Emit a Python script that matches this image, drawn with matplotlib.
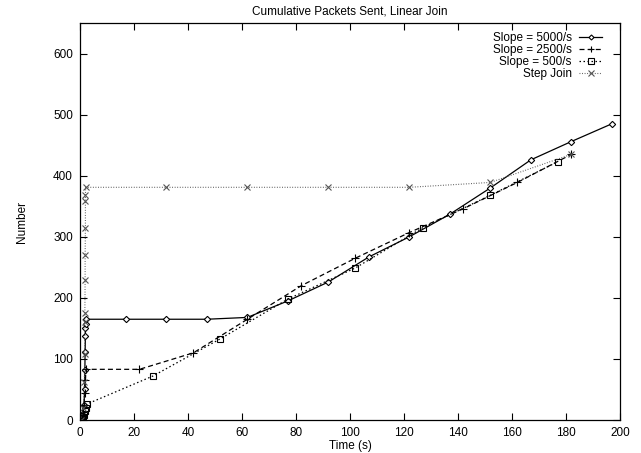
import matplotlib
matplotlib.use("Agg")
import matplotlib.pyplot as plt

plt.rcParams['font.family'] = ['Liberation Sans', 'DejaVu Sans']

# Slope = 5000/s
t_5000 = [0.3, 1.0, 1.5, 1.7, 1.8, 1.9, 2.0, 2.0, 2.1, 2.2, 17, 32, 47, 62, 77, 92, 107, 122, 137, 152, 167, 182, 197]
n_5000 = [0, 8, 25, 50, 82, 111, 138, 150, 158, 165, 165, 165, 165, 168, 195, 226, 267, 300, 337, 380, 426, 456, 485]

# Slope = 2500/s
t_2500 = [0.3, 1.0, 1.5, 1.8, 2.0, 2.2, 22, 42, 62, 82, 102, 122, 142, 162, 182]
n_2500 = [0, 10, 25, 45, 65, 83, 83, 110, 165, 220, 265, 307, 346, 389, 435]

# Slope = 500/s
t_500 = [0.2, 0.6, 1.0, 1.4, 1.8, 2.2, 2.5, 27, 52, 77, 102, 127, 152, 177]
n_500 = [0, 2, 4, 8, 14, 20, 26, 72, 133, 198, 249, 315, 368, 423]

# Step Join
t_step = [0.3, 1.2, 1.6, 1.7, 1.8, 1.8, 1.9, 1.9, 2.0, 2.0, 2.0, 2.1, 32, 62, 92, 122, 152, 182]
n_step = [0, 20, 62, 108, 160, 175, 230, 270, 315, 358, 368, 381, 381, 381, 381, 381, 389, 435]

fig = plt.figure(figsize=(6.41, 4.53), dpi=100)
ax = fig.add_axes([0.1248, 0.0728, 0.8424, 0.8764])

ax.plot(t_5000, n_5000, color='black', linestyle='-', linewidth=0.9,
        marker='D', markersize=3.2, markerfacecolor='white', markeredgewidth=0.8,
        label='Slope = 5000/s')
ax.plot(t_2500, n_2500, color='black', linestyle=(0, (4, 2.5)), linewidth=0.9,
        marker='+', markersize=6, markeredgewidth=0.8,
        label='Slope = 2500/s')
ax.plot(t_500, n_500, color='black', linestyle=(0, (1.2, 2)), linewidth=0.9,
        marker='s', markersize=5, markerfacecolor='none', markeredgewidth=0.8,
        label='Slope = 500/s')
ax.plot(t_step, n_step, color='#555555', linestyle=(0, (0.8, 1.5)), linewidth=0.8,
        marker='x', markersize=5, markeredgewidth=0.8,
        label='Step Join')

ax.set_xlim(0, 200)
ax.set_ylim(0, 650)
ax.set_xticks(range(0, 201, 20))
ax.set_yticks(range(0, 601, 100))
ax.tick_params(direction='in', length=5, width=0.8, top=True, right=True,
               labelsize=8.5, pad=5)
for s in ax.spines.values():
    s.set_linewidth(0.9)

ax.set_title('Cumulative Packets Sent, Linear Join', fontsize=8.5, pad=6)
ax.set_xlabel('Time (s)', fontsize=8.5, labelpad=1)
ax.set_ylabel('Number', fontsize=8.5, labelpad=18)

ax.legend(loc='upper right', frameon=False, markerfirst=False, fontsize=8.5,
          handlelength=2.0, handletextpad=0.6, labelspacing=0.0,
          borderaxespad=0.4, markerscale=0.8, bbox_to_anchor=(0.985, 1.0))

fig.savefig('out.png', dpi=100)
